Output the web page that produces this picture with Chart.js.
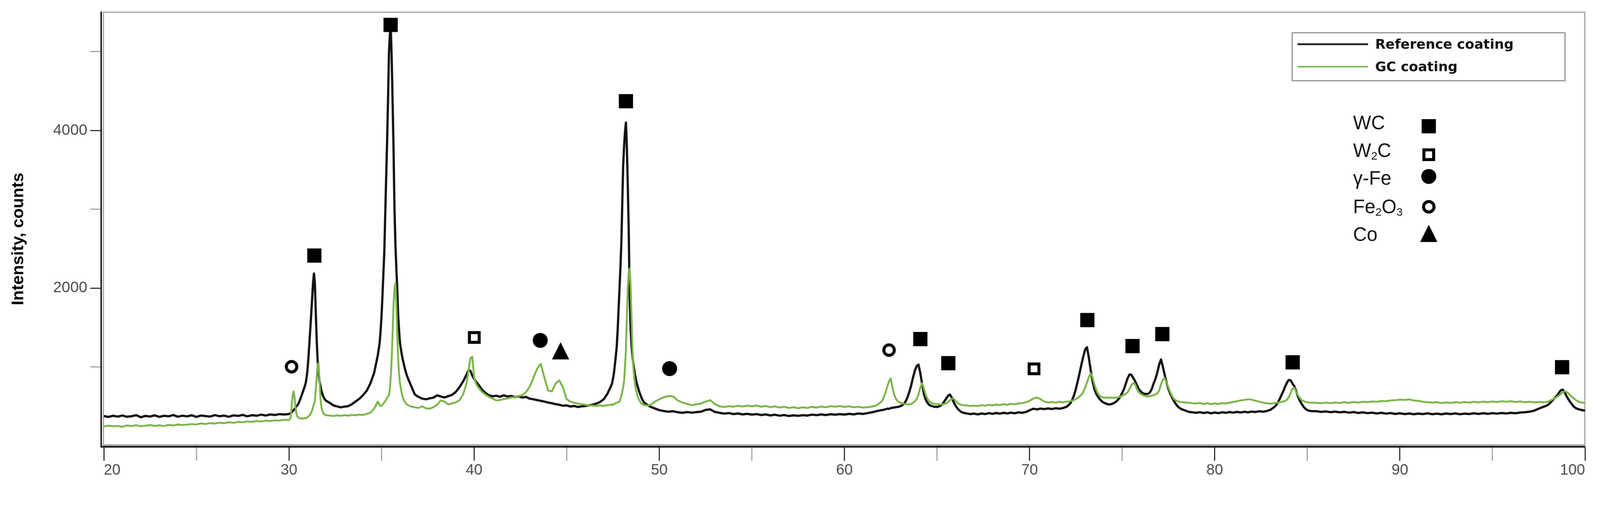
<!DOCTYPE html>
<html>
<head>
<meta charset="utf-8">
<title>XRD patterns</title>
<script src="https://cdn.jsdelivr.net/npm/chart.js@4/dist/chart.umd.min.js"></script>
<style>
  html, body { margin: 0; padding: 0; background: #ffffff; overflow: hidden; }
  #wrap { width: 4270px; height: 1306px; transform-origin: 0 0; }
</style>
</head>
<body>
<div id="wrap"><canvas id="xrd" width="4270" height="1306"></canvas></div>
<script>
'use strict';

// 2-theta grid (deg), finer around the sharp reflections
var twoTheta = [
  20, 20.25, 20.5, 20.75, 21, 21.25, 21.5, 21.75, 22, 22.25, 22.5, 22.75, 23, 23.25, 23.5, 23.75, 24, 24.25, 24.5, 24.75,
  25, 25.25, 25.5, 25.75, 26, 26.25, 26.5, 26.75, 27, 27.25, 27.5, 27.75, 28, 28.25, 28.5, 28.75, 29, 29.25, 29.5, 29.75,
  30, 30.05, 30.1, 30.15, 30.2, 30.25, 30.3, 30.35, 30.4, 30.45, 30.5, 30.55, 30.6, 30.65, 30.7, 30.75, 30.8, 30.85, 30.9, 30.95,
  31, 31.05, 31.1, 31.15, 31.2, 31.25, 31.3, 31.35, 31.4, 31.45, 31.5, 31.55, 31.6, 31.65, 31.7, 31.75, 31.8, 31.85, 31.9, 31.95, 32,
  32.2, 32.4, 32.6, 32.8, 33, 33.2, 33.4, 33.6, 33.8, 34, 34.2, 34.4, 34.6, 34.8,
  34.85, 34.9, 34.95, 35, 35.05, 35.1, 35.15, 35.2, 35.25, 35.3, 35.35, 35.4, 35.45, 35.5, 35.55, 35.6, 35.65, 35.7, 35.75, 35.8,
  35.85, 35.9, 35.95, 36, 36.05, 36.1, 36.15, 36.2, 36.25, 36.3, 36.35, 36.4,
  36.6, 36.8, 37, 37.2, 37.4, 37.6, 37.8, 38, 38.2, 38.4, 38.6, 38.8, 39, 39.2, 39.4,
  39.5, 39.6, 39.7, 39.8, 39.9, 40, 40.1, 40.2, 40.3, 40.4,
  40.6, 40.8, 41, 41.2, 41.4, 41.6, 41.8, 42, 42.2, 42.4, 42.6, 42.8, 43, 43.2, 43.4, 43.6, 43.8, 44, 44.2, 44.4,
  44.6, 44.8, 45, 45.2, 45.4, 45.6, 45.8, 46, 46.2, 46.4, 46.6, 46.8, 47, 47.2, 47.4,
  47.45, 47.5, 47.55, 47.6, 47.65, 47.7, 47.75, 47.8, 47.85, 47.9, 47.95, 48, 48.05, 48.1, 48.15, 48.2, 48.25, 48.3, 48.35, 48.4,
  48.45, 48.5, 48.55, 48.6, 48.65, 48.7, 48.75, 48.8, 48.85, 48.9, 48.95, 49, 49.05, 49.1, 49.15, 49.2,
  49.4, 49.6, 49.8, 50, 50.25, 50.5, 50.75, 51, 51.25, 51.5, 51.75, 52, 52.25, 52.5, 52.75, 53, 53.25, 53.5, 53.75, 54,
  54.25, 54.5, 54.75, 55, 55.25, 55.5, 55.75, 56, 56.25, 56.5, 56.75, 57, 57.25, 57.5, 57.75, 58, 58.25, 58.5, 58.75, 59,
  59.25, 59.5, 59.75, 60, 60.25, 60.5, 60.75, 61, 61.25, 61.5, 61.75, 62,
  62.1, 62.2, 62.3, 62.4, 62.5, 62.6, 62.7, 62.8, 62.9, 63, 63.1, 63.2, 63.3, 63.4, 63.5, 63.6, 63.7, 63.8, 63.9, 64,
  64.1, 64.2, 64.3, 64.4, 64.5, 64.6, 64.7, 64.8, 64.9, 65, 65.1, 65.2, 65.3, 65.4, 65.5, 65.6, 65.7, 65.8, 65.9, 66,
  66.1, 66.2, 66.3, 66.4,
  66.6, 66.8, 67, 67.2, 67.4, 67.6, 67.8, 68, 68.2, 68.4, 68.6, 68.8, 69, 69.2, 69.4, 69.6, 69.8, 70, 70.2, 70.4,
  70.6, 70.8, 71, 71.2, 71.4, 71.6, 71.8, 72,
  72.1, 72.2, 72.3, 72.4, 72.5, 72.6, 72.7, 72.8, 72.9, 73, 73.1, 73.2, 73.3, 73.4, 73.5, 73.6, 73.7, 73.8, 73.9, 74,
  74.1, 74.2, 74.3, 74.4, 74.5, 74.6, 74.7, 74.8, 74.9, 75, 75.1, 75.2, 75.3, 75.4, 75.5, 75.6, 75.7, 75.8, 75.9, 76,
  76.1, 76.2, 76.3, 76.4, 76.5, 76.6, 76.7, 76.8, 76.9, 77, 77.1, 77.2, 77.3, 77.4, 77.5, 77.6, 77.7, 77.8, 77.9, 78,
  78.1, 78.2,
  78.4, 78.6, 78.8, 79, 79.2, 79.4, 79.6, 79.8, 80, 80.2, 80.4, 80.6, 80.8, 81, 81.2, 81.4, 81.6, 81.8, 82, 82.2,
  82.4, 82.6, 82.8, 83, 83.2,
  83.3, 83.4, 83.5, 83.6, 83.7, 83.8, 83.9, 84, 84.1, 84.2, 84.3, 84.4, 84.5, 84.6, 84.7, 84.8, 84.9, 85, 85.1, 85.2,
  85.5, 85.75, 86, 86.25, 86.5, 86.75, 87, 87.25, 87.5, 87.75, 88, 88.25, 88.5, 88.75, 89, 89.25, 89.5, 89.75, 90, 90.25,
  90.5, 90.75, 91, 91.25, 91.5, 91.75, 92, 92.25, 92.5, 92.75, 93, 93.25, 93.5, 93.75, 94, 94.25, 94.5, 94.75, 95, 95.25,
  95.5, 95.75, 96, 96.25, 96.5, 96.75, 97, 97.25, 97.5,
  97.6, 97.7, 97.8, 97.9, 98, 98.1, 98.2, 98.3, 98.4, 98.5, 98.6, 98.7, 98.8, 98.9, 99, 99.1, 99.2, 99.3, 99.4, 99.5,
  99.6, 99.7, 99.8, 99.9, 100
];

// Reference coating (black)
var refCounts = [
  378, 366, 381, 370, 384, 368, 375, 388, 362, 379, 371, 386, 367, 380, 374, 390, 369, 382, 373, 387,
  366, 384, 377, 371, 389, 375, 383, 368, 386, 379, 392, 374, 388, 381, 395, 384, 398, 390, 402, 397,
  403, 410, 415, 426, 438, 452, 466, 480, 497, 512, 528, 556, 583, 617, 650, 684, 718, 752, 790, 860,
  960, 1112, 1290, 1470, 1659, 1860, 2060, 2185, 2060, 1680, 1330, 1076, 930, 820, 760, 700, 660, 628, 602, 585, 572,
  545, 512, 500, 488, 497, 503, 528, 562, 596, 642, 698, 792, 924, 1150,
  1230, 1310, 1460, 1650, 1900, 2180, 2460, 2930, 3400, 3850, 4380, 4980, 5220, 5300, 4900, 4350, 3750, 3000, 2550, 2250,
  1980, 1640, 1450, 1300, 1220, 1150, 1090, 1040, 990, 945, 905, 870,
  760, 650, 620, 598, 590, 602, 610, 640, 625, 612, 630, 645, 680, 740, 815,
  860, 910, 960, 950, 890, 850, 815, 785, 755, 720,
  672, 640, 628, 635, 622, 640, 625, 632, 618, 628, 612, 620, 598, 590, 580, 570, 560, 548, 540, 528,
  520, 508, 512, 498, 505, 492, 500, 505, 512, 520, 535, 555, 590, 660, 760,
  790, 850, 920, 1020, 1130, 1250, 1450, 1720, 1980, 2250, 2550, 3050, 3550, 3800, 3980, 4100, 3780, 3300, 2740, 1900,
  1500, 1280, 1150, 1040, 960, 890, 830, 780, 740, 700, 665, 635, 605, 580, 560, 545,
  510, 488, 470, 452, 440, 432, 438, 425, 418, 428, 420, 426, 432, 455, 462, 430, 418, 408, 415, 402,
  410, 398, 405, 396, 402, 390, 398, 385, 394, 382, 390, 378, 386, 380, 388, 383, 395, 388, 398, 390,
  400, 394, 402, 396, 405, 398, 410, 404, 414, 425, 440, 452,
  455, 462, 470, 468, 478, 482, 486, 490, 494, 500, 512, 528, 560, 610, 680, 760, 860, 950, 1010, 1030,
  920, 780, 650, 580, 540, 515, 505, 498, 494, 492, 498, 510, 530, 565, 600, 635, 650, 610, 555, 510,
  475, 450, 430, 420,
  410, 402, 408, 398, 410, 402, 414, 405, 416, 408, 418, 410, 420, 412, 424, 418, 428, 450, 470, 462,
  472, 465, 474, 466, 476, 470, 478, 495,
  515, 538, 580, 640, 720, 820, 920, 1030, 1130, 1220, 1250, 1120, 960, 820, 720, 660, 620, 590, 565, 548,
  538, 528, 524, 528, 535, 548, 565, 590, 625, 670, 720, 790, 860, 905, 900, 860, 820, 770, 720, 690,
  668, 660, 655, 660, 675, 720, 790, 850, 930, 1030, 1095, 1000, 900, 800, 720, 660, 610, 565, 530, 500,
  480, 465,
  448, 430, 424, 418, 426, 415, 424, 412, 422, 414, 425, 418, 428, 420, 430, 422, 432, 424, 434, 428,
  438, 432, 440, 455, 488,
  510, 545, 590, 640, 690, 750, 800, 835, 830, 790, 755, 690, 620, 570, 530, 495, 470, 452, 445, 440,
  438, 430, 436, 426, 434, 424, 430, 420, 428, 416, 424, 414, 420, 410, 418, 408, 415, 404, 412, 402,
  410, 400, 409, 402, 412, 400, 408, 399, 410, 402, 411, 400, 408, 403, 412, 404, 413, 405, 414, 408,
  416, 410, 418, 412, 422, 425, 432, 445, 470,
  480, 490, 498, 506, 520, 540, 565, 590, 615, 640, 675, 705, 712, 680, 630, 590, 555, 525, 495, 478,
  468, 460, 455, 450, 447
];

// GC coating (green)
var gcCounts = [
  244, 256, 247, 252, 241, 258, 250, 261, 248, 255, 264, 252, 260, 249, 266, 258, 271, 262, 268, 276,
  270, 284, 276, 288, 282, 293, 286, 298, 291, 303, 298, 309, 303, 314, 308, 319, 314, 323, 319, 330,
  328, 335, 360, 520, 640, 690, 620, 495, 410, 372, 360, 352, 348, 342, 350, 344, 348, 352, 347, 355,
  362, 372, 385, 398, 420, 450, 490, 530, 565, 720, 880, 1030, 1050, 830, 600, 492, 445, 415, 401, 392, 388,
  384, 378, 386, 380, 388, 382, 392, 386, 396, 390, 405, 420, 470, 560,
  540, 515, 505, 510, 520, 535, 550, 565, 585, 605, 625, 645, 720, 880, 1110, 1450, 1800, 2000, 2060, 1800,
  1400, 1090, 900, 790, 720, 660, 615, 580, 560, 545, 530, 518,
  498, 488, 480, 500, 475, 470, 490, 520, 575, 560, 525, 535, 550, 575, 650,
  720, 800, 960, 1110, 1130, 870, 790, 750, 720, 690,
  650, 620, 600, 575, 580, 592, 600, 612, 618, 630, 642, 680, 750, 860, 975, 1040, 860, 700, 690, 790,
  830, 740, 590, 560, 545, 535, 528, 520, 512, 510, 505, 512, 506, 515, 520,
  525, 518, 530, 535, 540, 545, 550, 555, 560, 590, 630, 680, 740, 820, 1000, 1220, 1650, 2000, 2200, 2250,
  2050, 1650, 1250, 1000, 860, 770, 700, 650, 615, 590, 565, 545, 535, 525, 520, 515,
  510, 530, 565, 590, 615, 632, 625, 575, 548, 532, 515, 525, 535, 560, 578, 530, 500, 492, 502, 495,
  508, 498, 510, 500, 512, 495, 505, 490, 500, 485, 495, 480, 490, 476, 488, 480, 494, 485, 498, 488,
  502, 495, 505, 492, 500, 488, 496, 484, 490, 498, 515, 560,
  600, 660, 740, 810, 855, 730, 640, 590, 560, 548, 540, 532, 528, 524, 526, 530, 545, 565, 590, 650,
  740, 795, 720, 640, 590, 560, 542, 535, 530, 528, 524, 526, 524, 530, 540, 555, 575, 598, 600, 570,
  545, 528, 520, 515,
  512, 505, 510, 504, 515, 508, 520, 512, 524, 516, 528, 520, 532, 526, 538, 540, 552, 570, 600, 612,
  590, 560, 548, 556, 546, 558, 550, 560,
  560, 566, 572, 580, 592, 605, 625, 648, 680, 740, 800, 870, 920, 870, 780, 710, 660, 630, 618, 612,
  608, 615, 606, 614, 608, 612, 610, 618, 625, 635, 645, 660, 680, 720, 770, 795, 780, 720, 680, 660,
  645, 635, 628, 625, 630, 635, 640, 652, 665, 700, 780, 840, 855, 800, 740, 680, 630, 595, 575, 565,
  558, 552,
  550, 545, 540, 536, 544, 530, 540, 528, 538, 530, 542, 536, 548, 555, 565, 575, 582, 590, 584, 572,
  560, 548, 540, 535, 540,
  545, 548, 552, 556, 562, 570, 585, 615, 670, 725, 735, 680, 640, 605, 580, 566, 558, 552, 548, 546,
  545, 538, 548, 540, 550, 542, 552, 544, 556, 548, 558, 552, 562, 558, 568, 564, 575, 578, 586, 582,
  588, 575, 570, 558, 554, 548, 552, 542, 550, 544, 552, 546, 555, 548, 558, 550, 560, 552, 562, 555,
  565, 558, 566, 555, 562, 552, 558, 550, 556,
  556, 550, 552, 555, 560, 570, 582, 595, 608, 622, 640, 660, 680, 690, 685, 665, 640, 620, 600, 580,
  565, 556, 550, 546, 542
];

// phase markers (2-theta, counts at the symbol centre)
var wcTheta    = [31.37, 35.49, 48.20, 64.10, 65.61, 73.12, 75.56, 77.17, 84.21, 98.76];
var wcCounts   = [2413, 5339, 4371, 1354, 1048, 1595, 1265, 1417, 1059, 997];
var w2cTheta   = [40.01, 70.24];
var w2cCounts  = [1374, 976];
var gFeTheta   = [43.57, 50.56];
var gFeCounts  = [1337, 979];
var fe2o3Theta = [30.14, 62.41];
var fe2o3Counts = [1003, 1214];
var coTheta    = [44.67];
var coCounts   = [1205];

var xTickValues  = [20, 25, 30, 35, 40, 45, 50, 55, 60, 65, 70, 75, 80, 85, 90, 95, 100];
var xLabelValues = [20, 30, 40, 50, 60, 70, 80, 90, 100];
var yTickValues  = [1000, 2000, 3000, 4000, 5000];
var yLabelValues = [2000, 4000];

var SERIES_NAMES = ['Reference coating', 'GC coating'];
var REF_COLOR = '#111111';
var GC_COLOR  = '#79b547';

var PAGE_W = 4270, PAGE_H = 1306;

if (refCounts.length !== twoTheta.length || gcCounts.length !== twoTheta.length) {
  throw new Error('length mismatch ' + twoTheta.length + ' / ' + refCounts.length + ' / ' + gcCounts.length);
}

// fit the fixed-size drawing into whatever the viewport really is
(function fitPage() {
  var s = Math.min(window.innerWidth / PAGE_W, window.innerHeight / PAGE_H);
  if (!isFinite(s) || s <= 0) s = 1;
  document.getElementById('wrap').style.transform = 'scale(' + s + ')';
})();

function pairs(xs, ys) {
  return xs.map(function(x, i) { return { x: x, y: ys[i] }; });
}

// small bitmaps for the phase symbols, used in the plot and in the key
function makeSymbol(kind) {
  var c = document.createElement('canvas');
  c.width = 56; c.height = 56;
  var g = c.getContext('2d');
  var m = 28;
  g.fillStyle = '#000'; g.strokeStyle = '#000';
  if (kind === 'WC') {
    g.fillRect(m - 19, m - 19, 38, 38);
  } else if (kind === 'W2C') {
    g.fillStyle = '#fff';
    g.fillRect(m - 13, m - 13, 26, 26);
    g.lineWidth = 8;
    g.strokeRect(m - 13, m - 13, 26, 26);
  } else if (kind === 'gFe') {
    g.beginPath(); g.arc(m, m, 20, 0, Math.PI * 2); g.fill();
  } else if (kind === 'Fe2O3') {
    g.fillStyle = '#fff';
    g.beginPath(); g.arc(m, m, 14, 0, Math.PI * 2); g.fill();
    g.lineWidth = 8; g.stroke();
  } else if (kind === 'Co') {
    g.beginPath();
    g.moveTo(m, m - 23); g.lineTo(m + 23, m + 23); g.lineTo(m - 23, m + 23);
    g.closePath(); g.fill();
  }
  return c;
}

var SYM = {
  WC: makeSymbol('WC'), W2C: makeSymbol('W2C'), gFe: makeSymbol('gFe'),
  Fe2O3: makeSymbol('Fe2O3'), Co: makeSymbol('Co'),
};

function markerSet(label, xs, ys, sym) {
  return {
    type: 'scatter', label: label, data: pairs(xs, ys),
    pointStyle: sym, pointRadius: 20, pointHoverRadius: 20,
    clip: false, order: -1,
  };
}

// text runs with subscripts: [text, isSub]
var PHASE_KEY = [
  { runs: [['WC', false]], sym: 'WC', y: 345, my: 337 },
  { runs: [['W', false], ['2', true], ['C', false]], sym: 'W2C', y: 419, my: 413 },
  { runs: [['\u03b3-Fe', false]], sym: 'gFe', y: 493, my: 471 },
  { runs: [['Fe', false], ['2', true], ['O', false], ['3', true]], sym: 'Fe2O3', y: 569, my: 552 },
  { runs: [['Co', false]], sym: 'Co', y: 643, my: 623 },
];

var decorations = {
  id: 'decorations',
  beforeDatasetsDraw: function(chart) {
    var a = chart.chartArea, ctx = chart.ctx;
    ctx.save();
    ctx.strokeStyle = '#9e9e9e';
    ctx.lineWidth = 3;
    ctx.strokeRect(a.left - 1, a.top, a.right - a.left + 0.5, a.bottom - 2.5 - a.top);
    ctx.restore();
  },
  afterDraw: function(chart) {
    var a = chart.chartArea, ctx = chart.ctx;
    ctx.save();

    // dark axis lines, set just outside the frame
    ctx.strokeStyle = '#1c1c1c';
    ctx.lineWidth = 4;
    ctx.beginPath();
    ctx.moveTo(a.left - 7, a.top - 2);
    ctx.lineTo(a.left - 7, a.bottom + 5);
    ctx.stroke();
    ctx.lineWidth = 5;
    ctx.beginPath();
    ctx.moveTo(a.left - 9, a.bottom + 2.5);
    ctx.lineTo(a.right + 1, a.bottom + 2.5);
    ctx.stroke();

    // y axis title
    ctx.save();
    ctx.translate(62, 638);
    ctx.rotate(-Math.PI / 2);
    ctx.fillStyle = '#000';
    ctx.font = 'bold 45px "Liberation Sans", Arial, sans-serif';
    ctx.textAlign = 'center';
    ctx.textBaseline = 'alphabetic';
    ctx.fillText('Intensity, counts', 0, 0);
    ctx.restore();

    // series key
    ctx.strokeStyle = '#8f8f8f';
    ctx.lineWidth = 3;
    ctx.strokeRect(3448.5, 87.5, 728, 128);
    ctx.lineWidth = 5;
    ctx.strokeStyle = '#222';
    ctx.beginPath(); ctx.moveTo(3463, 118); ctx.lineTo(3651, 118); ctx.stroke();
    ctx.lineWidth = 4;
    ctx.strokeStyle = GC_COLOR;
    ctx.beginPath(); ctx.moveTo(3463, 178); ctx.lineTo(3651, 178); ctx.stroke();
    ctx.fillStyle = '#111';
    ctx.font = 'bold 36px "DejaVu Sans", sans-serif';
    ctx.textAlign = 'left';
    ctx.textBaseline = 'alphabetic';
    ctx.fillText(SERIES_NAMES[0], 3670, 130);
    ctx.fillText(SERIES_NAMES[1], 3670, 190);

    // phase key
    PHASE_KEY.forEach(function(item) {
      var x = 3611;
      item.runs.forEach(function(r) {
        ctx.font = (r[1] ? '30px' : '51px') + ' "Liberation Sans", Arial, sans-serif';
        ctx.fillText(r[0], x, item.y + (r[1] ? 7 : 0));
        x += ctx.measureText(r[0]).width;
      });
      var s = SYM[item.sym];
      ctx.drawImage(s, 3813 - s.width / 2, item.my - s.height / 2);
    });

    ctx.restore();
  },
};

var ctx = document.getElementById('xrd').getContext('2d');

new Chart(ctx, {
  type: 'line',
  data: {
    datasets: [
      markerSet('WC', wcTheta, wcCounts, SYM.WC),
      markerSet('W2C', w2cTheta, w2cCounts, SYM.W2C),
      markerSet('\u03b3-Fe', gFeTheta, gFeCounts, SYM.gFe),
      markerSet('Fe2O3', fe2o3Theta, fe2o3Counts, SYM.Fe2O3),
      markerSet('Co', coTheta, coCounts, SYM.Co),
      {
        label: SERIES_NAMES[1],
        data: pairs(twoTheta, gcCounts),
        borderColor: GC_COLOR, borderWidth: 5,
        pointRadius: 0, tension: 0, borderJoinStyle: 'round', order: 0,
      },
      {
        label: SERIES_NAMES[0],
        data: pairs(twoTheta, refCounts),
        borderColor: REF_COLOR, borderWidth: 6,
        pointRadius: 0, tension: 0, borderJoinStyle: 'round', order: 1,
      },
    ],
  },
  options: {
    responsive: false,
    devicePixelRatio: 1,
    animation: false,
    events: [],
    layout: { padding: { top: 31, right: 40, left: 0, bottom: 0 } },
    plugins: {
      legend:  { display: false },
      tooltip: { enabled: false },
    },
    scales: {
      x: {
        type: 'linear', min: 20, max: 100,
        afterFit: function(s) { s.height = 116; },
        afterBuildTicks: function(s) {
          s.ticks = xTickValues.map(function(v) { return { value: v }; });
        },
        border: { display: true, color: 'rgba(0,0,0,0)', width: 10 },
        grid: {
          drawOnChartArea: false, drawTicks: true, tickLength: 40, tickWidth: 3,
          tickColor: function(c) {
            return c.tick && xLabelValues.indexOf(c.tick.value) >= 0 ? '#2a2a2a' : '#a0a0a0';
          },
        },
        ticks: {
          autoSkip: false, maxRotation: 0, minRotation: 0, align: 'inner', padding: 2,
          color: '#4a4a4a', font: { size: 40, family: '"Liberation Sans", Arial, sans-serif' },
          callback: function(v) { return xLabelValues.indexOf(v) >= 0 ? String(v) : ''; },
        },
      },
      y: {
        type: 'linear', min: 0, max: 5500,
        afterFit: function(s) { s.width = 277; },
        afterBuildTicks: function(s) {
          s.ticks = yTickValues.map(function(v) { return { value: v }; });
        },
        border: { display: true, color: 'rgba(0,0,0,0)', width: 16 },
        grid: {
          drawOnChartArea: false, drawTicks: true, tickLength: 36, tickWidth: 3,
          tickColor: function(c) {
            return c.tick && yLabelValues.indexOf(c.tick.value) >= 0 ? '#2a2a2a' : '#a0a0a0';
          },
        },
        ticks: {
          padding: 8,
          color: '#4a4a4a', font: { size: 41, family: '"Liberation Sans", Arial, sans-serif' },
          callback: function(v) { return yLabelValues.indexOf(v) >= 0 ? String(v) : ''; },
        },
      },
    },
  },
  plugins: [decorations],
});
</script>
</body>
</html>
